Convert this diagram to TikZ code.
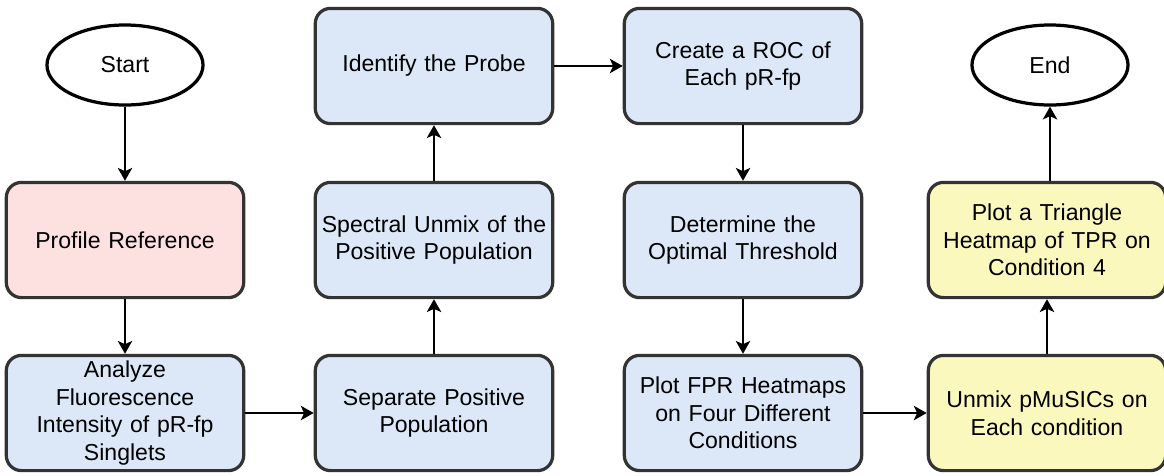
\documentclass[tikz,border=0pt]{standalone}
\usepackage{fontspec}
\setmainfont{Liberation Sans}
\usetikzlibrary{arrows.meta}
\usetikzlibrary{shapes.geometric}

\definecolor{stepblue}{HTML}{DCE8F7}
\definecolor{steppink}{HTML}{FDE1E1}
\definecolor{stepyellow}{HTML}{FBF8BE}
\definecolor{stepline}{HTML}{333333}

\begin{document}
\begin{tikzpicture}[
		x=0.025cm, y=-0.025cm,
		>={Stealth[length=0.32cm, width=0.36cm, inset=0.08cm]},
		proc/.style={draw=stepline, line width=2.3pt, rounded corners=0.38cm,
			minimum width=5.75cm, minimum height=2.88cm, align=center,
			text width=5.7cm, font=\fontsize{16.4}{19.6}\selectfont},
		blue/.style={proc, fill=stepblue},
		pink/.style={proc, fill=steppink},
		yellow/.style={proc, fill=stepyellow},
		term/.style={draw=black, line width=2.3pt, ellipse, minimum width=3.9cm,
			minimum height=2cm, font=\fontsize{16.4}{19.6}\selectfont},
		flow/.style={->, line width=1.3pt},
	]
	\useasboundingbox (0,0) rectangle (1164,475);
	% first column
	\node[term] (start) at (125,65) {Start};
	\node[pink] (profile) at (125,240) {Profile Reference};
	\node[blue] (analyze) at (125,413) {Analyze\\Fluorescence\\Intensity of pR-fp\\Singlets};
	% second column
	\node[blue] (separate) at (434,413) {Separate Positive\\Population};
	\node[blue] (spectral) at (434,240) {Spectral Unmix of the\\Positive Population};
	\node[blue] (identify) at (434,66) {Identify the Probe};
	% third column
	\node[blue] (roc) at (743,66) {Create a ROC of\\Each pR-fp};
	\node[blue] (threshold) at (743,240) {Determine the\\Optimal Threshold};
	\node[blue] (fpr) at (743,413) {Plot FPR Heatmaps\\on Four Different\\Conditions};
	% fourth column
	\node[yellow] (unmix) at (1047,413) {Unmix pMuSICs on\\Each condition};
	\node[yellow] (triangle) at (1047,240) {Plot a Triangle\\Heatmap of TPR on\\Condition 4};
	\node[term] (end) at (1050,65) {End};

	\draw[flow] (start) -- (profile);
	\draw[flow] (profile) -- (analyze);
	\draw[flow] (analyze) -- (separate);
	\draw[flow] (separate) -- (spectral);
	\draw[flow] (spectral) -- (identify);
	\draw[flow] (identify) -- (roc);
	\draw[flow] (roc) -- (threshold);
	\draw[flow] (threshold) -- (fpr);
	\draw[flow] (fpr) -- (unmix);
	\draw[flow] (unmix) -- (triangle);
	\draw[flow] (triangle.north -| end) -- (end);
\end{tikzpicture}
\end{document}
